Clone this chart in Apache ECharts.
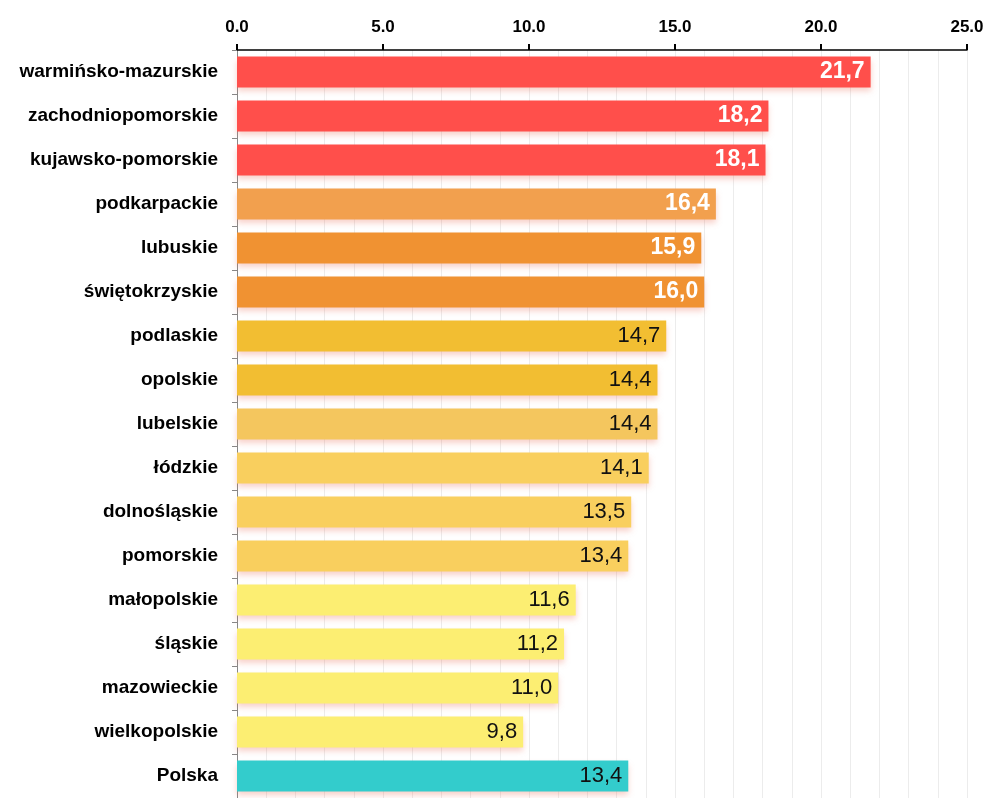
<!DOCTYPE html>
<html><head><meta charset="utf-8">
<script src="https://cdn.jsdelivr.net/npm/echarts@6/dist/echarts.min.js"></script>
<style>html,body{margin:0;padding:0;background:#fff}#c{width:987px;height:798px}</style>
</head><body><div id="c"></div>
<script>
const categories = ["warmińsko-mazurskie","zachodniopomorskie","kujawsko-pomorskie","podkarpackie","lubuskie","świętokrzyskie","podlaskie","opolskie","lubelskie","łódzkie","dolnośląskie","pomorskie","małopolskie","śląskie","mazowieckie","wielkopolskie","Polska"];
const values = [21.7,18.2,18.1,16.4,15.9,16.0,14.7,14.4,14.4,14.1,13.5,13.4,11.6,11.2,11.0,9.8,13.4];
const colors = ["#FF4F4B","#FF4F4B","#FF4F4B","#F2A04E","#F09232","#F09232","#F2BE32","#F2BE32","#F4C65E","#F9CF5E","#F9CF5E","#F9CF5E","#FCEE72","#FCEE72","#FCEE72","#FCEE72","#33CCCC"];
const whiteLabel = [true,true,true,true,true,true,false,false,false,false,false,false,false,false,false,false,false];
const xTicks = [0,5,10,15,20,25];

const FONT = 'Arial, "Liberation Sans", sans-serif';
const chart = echarts.init(document.getElementById('c'));
chart.setOption({
  animation:false,
  textStyle:{fontFamily:FONT},
  grid:{left:237,right:20,top:50,bottom:-4,containLabel:false},
  xAxis:{type:'value',position:'top',min:xTicks[0],max:xTicks[xTicks.length-1],interval:5,
    axisLine:{show:true,lineStyle:{color:'#000',width:1.5}},
    axisTick:{show:true,length:6,inside:false,lineStyle:{color:'#000',width:2}},
    axisLabel:{margin:14,fontFamily:FONT,fontWeight:'bold',fontSize:17,color:'#000',formatter:v=>v.toFixed(1)},
    splitLine:{show:true,lineStyle:{color:'#ececec',width:1}},
    minorTick:{show:false,splitNumber:5},
    minorSplitLine:{show:true,lineStyle:{color:'#ececec',width:1}}
  },
  yAxis:{type:'category',inverse:true,data:categories,
    axisLine:{show:true,lineStyle:{color:'#888',width:1}},
    axisTick:{show:true,length:5,lineStyle:{color:'#888'}},
    axisLabel:{margin:19,fontFamily:FONT,fontWeight:'bold',fontSize:19,color:'#000'}
  },
  series:[{type:'bar',barWidth:'70%',
    data:values.map((v,i)=>({value:v,itemStyle:{color:colors[i]},
      label:whiteLabel[i]?{color:'#fff',fontWeight:'bold',fontSize:23}:{color:'#111',fontWeight:'normal',fontSize:22}})),
    itemStyle:{shadowColor:'rgba(235,120,100,0.35)',shadowBlur:6,shadowOffsetY:4},
    label:{show:true,position:'insideRight',distance:6,fontFamily:FONT,formatter:p=>p.value.toFixed(1).replace('.',',')}
  }]
});
</script></body></html>
